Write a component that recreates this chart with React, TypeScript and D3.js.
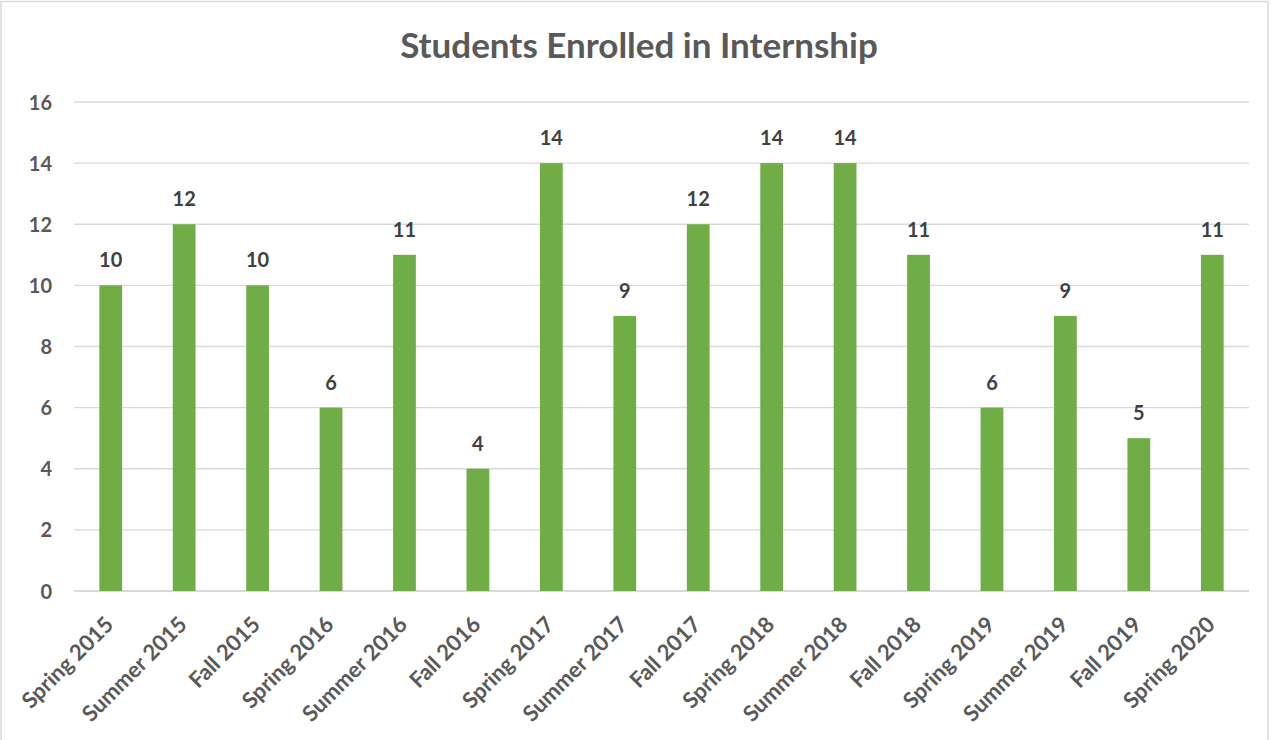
import React from "react";
import * as d3 from "d3";

const categories = ["Spring 2015","Summer 2015","Fall 2015","Spring 2016","Summer 2016","Fall 2016","Spring 2017","Summer 2017","Fall 2017","Spring 2018","Summer 2018","Fall 2018","Spring 2019","Summer 2019","Fall 2019","Spring 2020"];
const values = [10,12,10,6,11,4,14,9,12,14,14,11,6,9,5,11];
const yTicks = [0,2,4,6,8,10,12,14,16];
const title = "Students Enrolled in Internship";

const W = 1278, H = 740;
const FONT = "Lato, 'Open Sans', sans-serif";

export default function App() {
  const x = d3.scaleBand<string>().domain(categories).range([74, 1249]).paddingInner(0.69).paddingOuter(0.345);
  const y = d3.scaleLinear().domain([0, 16]).range([591, 102]);
  return (
    <svg width={W} height={H} style={{ position: "absolute", left: 0, top: 0 }}>
      <rect x={1} y={1.5} width={1267} height={740} fill="#fff" stroke="#d9d9d9" strokeWidth={1.5} />
      <text x={639} y={58} textAnchor="middle" fontFamily={FONT} fontWeight="bold" fontSize={35} fill="#595959">{title}</text>
      {yTicks.map(t => (
        <g key={t}>
          <line x1={74} x2={1249} y1={y(t)} y2={y(t)} stroke="#d9d9d9" strokeWidth={t === 0 ? 2 : 1.3} />
          <text x={52} y={y(t) + 7.5} textAnchor="end" fontFamily={FONT} fontWeight="bold" fontSize={20} fill="#595959">{t}</text>
        </g>
      ))}
      {categories.map((c, i) => {
        const bx = x(c)!;
        const bw = x.bandwidth();
        return (
          <g key={c}>
            <rect x={bx} y={y(values[i])} width={bw} height={y(0) - y(values[i])} fill="#70ad47" />
            <text x={bx + bw / 2} y={y(values[i]) - 18} textAnchor="middle" fontFamily={FONT} fontWeight="bold" fontSize={20} fill="#404040">{values[i]}</text>
            <text transform={`translate(${bx + bw / 2 + 4},${626}) rotate(-45)`} textAnchor="end" fontFamily={FONT} fontWeight="bold" fontSize={22} fill="#595959">{c}</text>
          </g>
        );
      })}
    </svg>
  );
}
